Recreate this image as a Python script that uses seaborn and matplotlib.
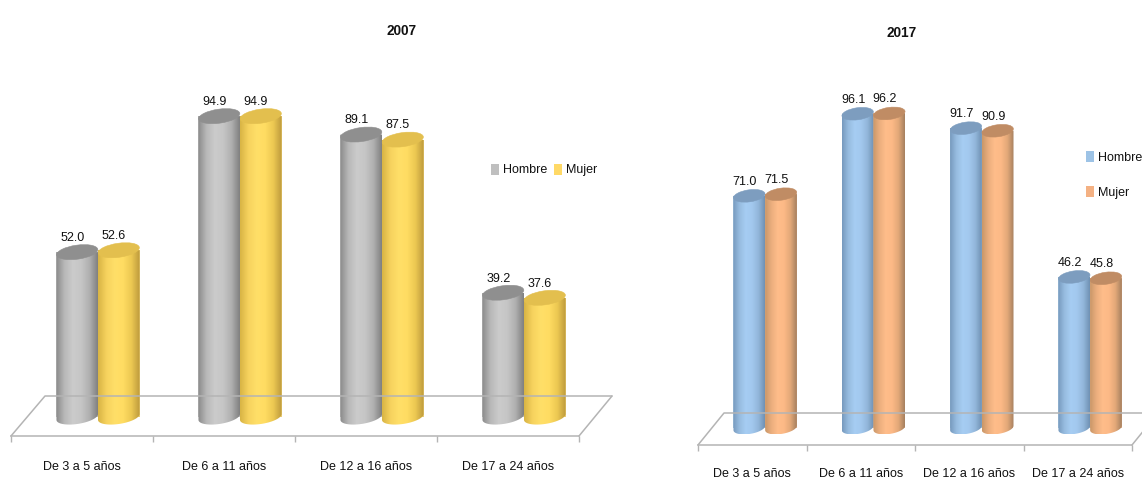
import numpy as np
import pandas as pd
import seaborn as sns
import matplotlib
matplotlib.use("Agg")
import matplotlib.pyplot as plt
from matplotlib.colors import LinearSegmentedColormap
from matplotlib.lines import Line2D
from matplotlib.patches import Ellipse, Polygon, Patch
from matplotlib.transforms import Affine2D, ScaledTranslation, IdentityTransform

categories = ["De 3 a 5 años", "De 6 a 11 años", "De 12 a 16 años", "De 17 a 24 años"]
series_names = ["Hombre", "Mujer"]
hombre_2007 = [52.0, 94.9, 89.1, 39.2]
mujer_2007 = [52.6, 94.9, 87.5, 37.6]
hombre_2017 = [71.0, 96.1, 91.7, 46.2]
mujer_2017 = [71.5, 96.2, 90.9, 45.8]

W, H = 1142, 479
sns.set_theme(style="white")
plt.rcParams["font.family"] = ["Liberation Sans", "DejaVu Sans"]
fig = plt.figure(figsize=(W / 100, H / 100), dpi=100)
fig.patch.set_facecolor("white")
FS = 9.0


def rect(x0, x1, ytop, ybot):
    return [x0 / W, 1 - ybot / H, (x1 - x0) / W, (ybot - ytop) / H]


def floor_line(xs, ys):
    fig.add_artist(Line2D(xs, [H - y for y in ys], transform=IdentityTransform(),
                          color="#b4b4b4", lw=1.1))


def panel(title, title_xy, men, women, colors, grads, tops, x_bar, x_front, y_zero, scale,
          y_front, y_back, back_x, right_end, ell_h, tilt, leg_xy, leg_cols, leg_gap, lab_dx,
          lab_pad):
    # floor axis: category labels and dividers
    af = fig.add_axes(rect(x_front[0], x_front[1], y_front - 5, y_front))
    af.set_xlim(-0.5, 3.5)
    af.set_ylim(0, 1)
    af.patch.set_visible(False)
    for s in ("top", "left", "right"):
        af.spines[s].set_visible(False)
    af.spines["bottom"].set_color("#b4b4b4")
    af.spines["bottom"].set_linewidth(1.1)
    af.set_yticks([])
    af.set_xticks(range(4))
    af.set_xticklabels(categories, fontsize=FS, color="#111111")
    af.set_xticks(np.arange(-0.5, 4), minor=True)
    af.tick_params(axis="x", which="major", length=0, pad=lab_pad, bottom=False)
    af.tick_params(axis="x", which="minor", length=4, width=1, color="#b4b4b4", bottom=True)
    floor_line([x_front[0], back_x[0], back_x[1]], [y_front, y_back, y_back])
    floor_line([x_front[1], right_end[0]], [y_front, right_end[1]])

    # bars
    ytop_px = 60
    ax = fig.add_axes(rect(x_bar[0], x_bar[1], ytop_px, y_front))
    df = pd.DataFrame({
        "Edad": categories * 2,
        "Sexo": [series_names[0]] * 4 + [series_names[1]] * 4,
        "Valor": list(men) + list(women),
    })
    sns.barplot(data=df, x="Edad", y="Valor", hue="Sexo", hue_order=series_names,
                palette=colors, width=0.585, gap=0, legend=False, ax=ax, errorbar=None,
                linewidth=0)
    ax.set_xlim(-0.5, 3.5)
    ax.set_ylim(-(y_front - y_zero) / scale, (y_zero - ytop_px) / scale)
    ax.set_axis_off()

    # cylinder shading built on each bar of the seaborn axes
    tri = ax.transData
    inv = tri.inverted()
    items = []
    for i, container in enumerate(ax.containers):
        for bar in container:
            items.append((bar.get_x(), i, bar))
    items.sort(key=lambda t: (t[0], t[1]))
    z = 3
    for _, i, bar in items:
        x, w, v = bar.get_x(), bar.get_width(), bar.get_height()
        cx = x + w / 2
        (x0d, y0d), (x1d, y1d) = tri.transform([(x, 0), (x + w, v)])
        a = (x1d - x0d) / 2
        b = ell_h / 2
        th = np.radians(tilt)
        t = np.linspace(np.pi, 2 * np.pi, 40)
        ex = a * np.cos(t)
        ey = b * np.sin(t) + np.cos(t) * a * np.sin(th)
        ccx = (x0d + x1d) / 2
        bottom = np.column_stack([ccx + ex, y0d + ey])
        verts = np.vstack([[x0d, y1d], bottom, [x1d, y1d]])
        verts = inv.transform(verts)
        body = Polygon(verts, closed=True, transform=ax.transData, fc="none", ec="none")
        ax.add_patch(body)
        cmap = LinearSegmentedColormap.from_list("g", grads[i])
        img = ax.imshow(np.linspace(0, 1, 128)[None, :], cmap=cmap, aspect="auto",
                        extent=(x, x + w, verts[:, 1].min(), v), zorder=z, clip_on=True)
        img.set_clip_path(body)
        tr = Affine2D() + ScaledTranslation(cx, v, ax.transData)
        ax.add_patch(Ellipse((0, 0), 2 * a, ell_h, angle=tilt, transform=tr, fc=tops[i],
                             ec=tops[i], lw=0.4, zorder=z + 0.5, clip_on=False))
        z += 1
        ax.annotate(f"{v:.1f}", (cx, v), xytext=(lab_dx * 0.72, 10.2), textcoords="offset points",
                    ha="center", va="center", fontsize=FS, color="#111111",
                    zorder=50, annotation_clip=False)
    ax.set_xlim(-0.5, 3.5)
    ax.set_ylim(-(y_front - y_zero) / scale, (y_zero - ytop_px) / scale)

    # legend
    handles = [Patch(fc=colors[0], ec="none"), Patch(fc=colors[1], ec="none")]
    ax.legend(handles, series_names, ncol=leg_cols, frameon=False, loc="center",
              bbox_to_anchor=(leg_xy[0] / W, 1 - leg_xy[1] / H), bbox_transform=fig.transFigure,
              fontsize=FS, handlelength=0.65, handleheight=1.0, handletextpad=0.3,
              columnspacing=0.55, labelspacing=leg_gap, borderpad=0, labelcolor="#111111")

    fig.text(title_xy[0] / W, 1 - title_xy[1] / H, title, ha="center", va="center",
             fontsize=9.8, fontweight="bold", color="#111111")


grey = ["#8a8a8a", "#b8b8b8", "#cbcbcb", "#c6c6c6", "#b0b0b0", "#808080"]
yellow = ["#d8b444", "#f6d25e", "#ffdf68", "#ffdc62", "#ecc852", "#bd9a3c"]
blue = ["#7699bd", "#97bce0", "#a6cdf3", "#a2c8ee", "#92b6da", "#6f91b3"]
orange = ["#c99768", "#ebae7e", "#ffbd8a", "#fcb986", "#e2a878", "#a6805f"]

panel("2007", (402, 31), hombre_2007, mujer_2007,
      ["#bfbfbf", "#ffd966"], [grey, yellow], ["#8f8f8f", "#e3bf4e"],
      x_bar=(27, 595), x_front=(11, 579), y_zero=417, scale=3.17,
      y_front=436, y_back=396, back_x=(45, 612), right_end=(612, 396),
      ell_h=14, tilt=8, leg_xy=(544, 170), leg_cols=2, leg_gap=0.5, lab_dx=-5, lab_pad=18)

panel("2017", (902, 33), hombre_2017, mujer_2017,
      ["#9dc3e6", "#f4b183"], [blue, orange], ["#7d9dbf", "#c08c64"],
      x_bar=(711, 1144.3), x_front=(698, 1132), y_zero=428, scale=3.27,
      y_front=445, y_back=413, back_x=(724, 1142), right_end=(1145, 429),
      ell_h=12, tilt=8, leg_xy=(1114, 175), leg_cols=1, leg_gap=1.75, lab_dx=-4.5, lab_pad=16.5)

fig.savefig("out.png", dpi=100)
